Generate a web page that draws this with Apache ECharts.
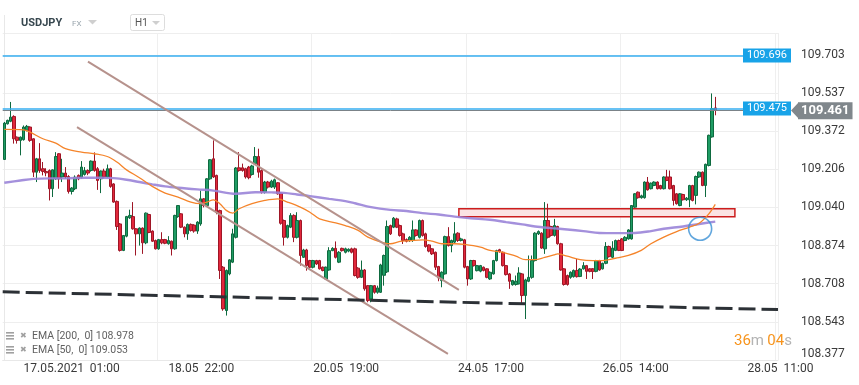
<!DOCTYPE html>
<html><head><meta charset="utf-8">
<script src="https://cdn.jsdelivr.net/npm/echarts@6/dist/echarts.min.js"></script>
<style>html,body{margin:0;padding:0;background:#fff}#c{width:859px;height:385px}</style>
</head><body><div id="c"></div>
<script>
// ---- data (USDJPY, H1) : [open, close, low, high] ----
const candles = [
[109.248,109.406,109.248,109.411],[109.403,109.418,109.400,109.421],[109.414,109.432,109.410,109.498],[109.435,109.338,109.317,109.440],
[109.345,109.331,109.317,109.348],[109.331,109.345,109.266,109.348],[109.334,109.389,109.330,109.396],[109.375,109.392,109.370,109.398],
[109.389,109.331,109.325,109.392],[109.338,109.193,109.172,109.340],[109.193,109.251,109.150,109.255],[109.251,109.200,109.190,109.319],
[109.208,109.196,109.179,109.237],[109.196,109.190,109.175,109.210],[109.200,109.121,109.070,109.205],[109.121,109.203,109.085,109.205],
[109.164,109.261,109.160,109.280],[109.273,109.164,109.121,109.276],[109.172,109.189,109.150,109.251],[109.189,109.172,109.165,109.215],
[109.174,109.109,109.100,109.180],[109.109,109.124,109.096,109.128],[109.121,109.171,109.115,109.179],[109.179,109.164,109.158,109.183],
[109.171,109.215,109.165,109.241],[109.183,109.200,109.178,109.215],[109.200,109.189,109.180,109.205],[109.200,109.241,109.195,109.244],
[109.241,109.200,109.195,109.279],[109.208,109.157,109.116,109.215],[109.164,109.198,109.102,109.200],[109.198,109.172,109.165,109.208],
[109.172,109.208,109.170,109.226],[109.208,109.131,109.125,109.212],[109.142,109.063,109.060,109.145],[109.066,108.957,108.942,109.070],
[108.968,108.853,108.848,108.972],[108.853,108.918,108.850,108.920],[108.915,109.000,108.910,109.003],[108.995,109.005,108.990,109.030],
[109.000,108.947,108.943,109.063],[108.947,108.925,108.831,108.950],[108.925,108.950,108.874,108.953],[108.950,108.886,108.838,108.953],
[108.886,109.015,108.880,109.018],[109.009,108.931,108.928,109.012],[108.937,108.893,108.890,108.940],[108.896,108.860,108.857,108.900],
[108.860,108.900,108.856,108.903],[108.900,108.886,108.880,108.932],[108.900,108.884,108.880,108.903],[108.882,108.896,108.878,108.915],
[108.893,108.860,108.831,108.896],[108.860,109.005,108.856,109.008],[109.000,109.048,108.995,109.050],[109.012,108.954,108.950,109.015],
[108.954,108.925,108.910,108.957],[108.925,108.966,108.899,108.970],[108.966,108.940,108.935,108.970],[108.963,108.937,108.930,108.967],
[108.937,108.976,108.925,108.980],[108.968,109.077,108.960,109.113],[109.077,109.048,109.040,109.080],[109.048,109.164,109.045,109.167],
[109.164,109.247,109.160,109.250],[109.251,109.172,109.168,109.331],[109.179,109.019,109.010,109.182],[109.026,108.766,108.729,109.030],
[108.780,108.599,108.591,108.785],[108.592,108.766,108.570,108.770],[108.751,108.812,108.745,108.815],[108.802,108.925,108.798,108.947],
[108.910,109.211,108.905,109.215],[109.212,109.200,109.195,109.280],[109.212,109.200,109.195,109.230],[109.208,109.172,109.165,109.212],
[109.215,109.169,109.162,109.220],[109.183,109.220,109.178,109.225],[109.230,109.261,109.225,109.302],[109.261,109.193,109.169,109.295],
[109.200,109.106,109.100,109.205],[109.106,109.150,109.100,109.155],[109.150,109.128,109.122,109.155],[109.128,109.154,109.124,109.160],
[109.128,109.160,109.120,109.165],[109.147,109.099,109.095,109.150],[109.102,108.971,108.965,109.105],[108.983,108.910,108.874,108.987],
[108.910,108.961,108.905,108.965],[108.954,109.005,108.950,109.015],[109.005,108.910,108.889,109.010],[108.910,108.983,108.905,109.019],
[108.983,108.831,108.787,108.987],[108.823,108.855,108.820,108.860],[108.855,108.787,108.765,108.860],[108.809,108.780,108.775,108.812],
[108.780,108.809,108.775,108.812],[108.809,108.794,108.790,108.812],[108.809,108.773,108.770,108.812],[108.780,108.766,108.762,108.783],
[108.729,108.780,108.725,108.783],[108.768,108.852,108.765,108.867],[108.852,108.862,108.850,108.867],[108.862,108.823,108.818,108.892],
[108.802,108.845,108.798,108.850],[108.862,108.852,108.848,108.865],[108.845,108.860,108.840,108.865],[108.850,108.858,108.845,108.862],
[108.860,108.845,108.840,108.865],[108.860,108.744,108.740,108.865],[108.776,108.736,108.730,108.780],[108.736,108.768,108.733,108.809],
[108.768,108.686,108.678,108.772],[108.700,108.635,108.628,108.703],[108.642,108.700,108.628,108.703],[108.700,108.671,108.665,108.703],
[108.671,108.690,108.665,108.700],[108.671,108.790,108.668,108.795],[108.745,108.831,108.700,108.835],[108.760,108.957,108.755,108.983],
[108.961,108.925,108.920,108.965],[108.954,108.993,108.950,108.998],[108.990,108.954,108.950,108.995],[108.961,108.918,108.913,108.965],
[108.925,108.896,108.881,108.930],[108.900,108.893,108.888,108.905],[108.896,108.910,108.890,108.915],[108.896,108.942,108.890,108.983],
[108.942,108.918,108.913,108.945],[108.910,108.983,108.905,108.987],[108.983,108.918,108.913,108.987],[108.925,108.870,108.865,108.930],
[108.877,108.850,108.845,108.880],[108.860,108.838,108.833,108.863],[108.845,108.780,108.768,108.848],[108.783,108.734,108.719,108.786],
[108.722,108.758,108.693,108.762],[108.751,108.913,108.748,108.917],[108.913,108.874,108.870,108.954],[108.874,108.896,108.845,108.900],
[108.889,108.925,108.885,108.976],[108.928,108.896,108.890,108.932],[108.896,108.903,108.892,108.908],[108.899,108.780,108.775,108.903],
[108.783,108.729,108.700,108.786],[108.729,108.809,108.725,108.812],[108.809,108.787,108.783,108.812],[108.765,108.787,108.762,108.790],
[108.763,108.787,108.758,108.790],[108.780,108.766,108.762,108.783],[108.773,108.736,108.732,108.776],[108.729,108.758,108.725,108.762],
[108.751,108.809,108.748,108.812],[108.809,108.852,108.805,108.856],[108.856,108.848,108.843,108.860],[108.845,108.787,108.783,108.848],
[108.787,108.748,108.744,108.790],[108.751,108.719,108.686,108.755],[108.704,108.722,108.700,108.725],[108.705,108.719,108.700,108.744],
[108.708,108.755,108.705,108.780],[108.751,108.657,108.620,108.755],[108.657,108.725,108.555,108.730],[108.719,108.736,108.715,108.831],
[108.736,108.809,108.730,108.831],[108.809,108.928,108.805,108.932],[108.925,108.935,108.920,108.940],[108.928,108.863,108.860,108.932],
[108.860,108.983,108.838,109.063],[108.983,108.910,108.905,109.056],[108.957,108.918,108.913,108.960],[108.918,108.961,108.913,108.990],
[108.957,108.882,108.878,108.960],[108.882,108.768,108.765,108.886],[108.773,108.705,108.700,108.776],[108.744,108.705,108.700,108.748],
[108.736,108.758,108.730,108.762],[108.739,108.766,108.735,108.770],[108.766,108.739,108.735,108.816],[108.740,108.772,108.737,108.776],
[108.773,108.787,108.770,108.802],[108.787,108.762,108.729,108.790],[108.773,108.762,108.758,108.776],[108.773,108.762,108.729,108.776],
[108.762,108.809,108.758,108.812],[108.809,108.768,108.765,108.812],[108.773,108.797,108.770,108.800],[108.797,108.870,108.793,108.889],
[108.870,108.826,108.822,108.874],[108.823,108.863,108.820,108.893],[108.853,108.896,108.850,108.900],[108.896,108.853,108.850,108.900],
[108.903,108.853,108.850,108.907],[108.896,108.910,108.893,108.915],[108.903,108.942,108.900,108.945],[108.903,109.048,108.900,109.050],
[109.041,109.099,109.038,109.102],[109.106,109.082,109.078,109.109],[109.082,109.090,109.078,109.095],[109.082,109.150,109.078,109.153],
[109.150,109.116,109.113,109.172],[109.121,109.145,109.118,109.148],[109.135,109.150,109.132,109.153],[109.150,109.121,109.118,109.153],
[109.135,109.121,109.118,109.138],[109.121,109.172,109.118,109.175],[109.172,109.157,109.154,109.203],[109.172,109.121,109.118,109.200],
[109.135,109.070,109.048,109.138],[109.099,109.056,109.052,109.102],[109.048,109.099,109.045,109.102],[109.096,109.073,109.070,109.099],
[109.073,109.080,109.068,109.085],[109.073,109.135,109.041,109.138],[109.135,109.070,109.066,109.138],[109.092,109.174,109.053,109.178],
[109.172,109.193,109.168,109.196],[109.193,109.135,109.132,109.196],[109.135,109.227,109.085,109.230],[109.222,109.353,109.218,109.356],
[109.346,109.469,109.343,109.535],[109.472,109.461,109.440,109.520]
];
// EMA readings: [candle index, value]
const ema50Points = [[0,109.379],[6,109.377],[8,109.367],[12,109.338],[16,109.319],[19,109.295],[24,109.280],[28,109.273],[32,109.261],[35,109.237],[38,109.203],[42,109.169],[46,109.131],[50,109.102],[54,109.085],[58,109.063],[61,109.056],[63,109.063],[65,109.073],[67,109.056],[69,109.027],[71,109.015],[73,109.034],[77,109.056],[81,109.070],[85,109.077],[88,109.063],[92,109.041],[95,109.019],[98,108.990],[103,108.973],[106,108.961],[110,108.940],[113,108.911],[118,108.886],[120,108.882],[123,108.892],[126,108.895],[130,108.899],[133,108.893],[136,108.882],[140,108.882],[143,108.879],[148,108.867],[151,108.853],[155,108.845],[159,108.828],[162,108.813],[165,108.813],[168,108.823],[171,108.834],[172,108.838],[175,108.828],[179,108.813],[183,108.809],[186,108.809],[190,108.819],[194,108.831],[198,108.853],[201,108.882],[205,108.911],[209,108.935],[213,108.954],[216,108.971],[219,109.012],[221,109.053]];
const ema200Points = [[0,109.147],[5,109.157],[9,109.164],[14,109.166],[19,109.166],[25,109.169],[30,109.169],[34,109.167],[38,109.160],[42,109.150],[46,109.140],[50,109.131],[54,109.125],[60,109.118],[65,109.113],[72,109.099],[78,109.106],[83,109.105],[87,109.103],[91,109.096],[95,109.089],[101,109.077],[106,109.067],[109,109.058],[114,109.041],[120,109.029],[125,109.024],[130,109.015],[135,109.009],[140,109.000],[145,108.993],[151,108.986],[156,108.976],[161,108.966],[165,108.957],[170,108.950],[175,108.944],[180,108.937],[185,108.929],[190,108.928],[196,108.929],[201,108.937],[205,108.947],[211,108.957],[216,108.968],[221,108.978]];
const yTickLabels = ['108.377','108.543','108.708','108.874','109.040','109.206','109.372','109.537','109.703'];
const xTickLabels = ['17.05.2021  01:00','18.05  22:00','20.05  19:00','24.05  17:00','26.05  14:00','28.05  11:00'];
const levels = [109.696, 109.475];
const lastPrice = 109.461;
const channelUpper = [[26.0,109.673],[141.3,108.682]];
const channelLower = [[22.6,109.389],[137.9,108.404]];
const supportLine = [[-0.5,108.673],[240.5,108.596]];
const zone = {from:141.3, to:227.1, top:109.034, bottom:108.999};
const circleMark = [[216.3,108.947]];
const legendRows = ['EMA [200,  0] 108.978','EMA [50,  0] 109.053'];
const SLOTS = 241;

// hourly categories, market closed Fri 22:00 .. Sun 22:00
function pad(n){return (n<10?'0':'')+n;}
function buildCategories(n){
  const out=[]; let t=Date.UTC(2021,4,14,18);
  while(out.length<n){
    const d=new Date(t), dow=d.getUTCDay(), h=d.getUTCHours();
    const closed=(dow===5&&h>=22)||dow===6||(dow===0&&h<23);
    if(!closed) out.push(pad(d.getUTCDate())+'.'+pad(d.getUTCMonth()+1)+' '+pad(h)+':00');
    t+=3600000;
  }
  return out;
}
const categories = buildCategories(SLOTS);
const keyOf = s => s.replace('.2021','').replace(/\s+/g,' ');
const labelMap = {}; xTickLabels.forEach(l => labelMap[keyOf(l)] = l);

const yInterval = 108.377/654;
const yMin = 654*yInterval;
const yMax = 109.7975;

const chart = echarts.init(document.getElementById('c'), null, {renderer:'canvas'});
const FONT = 'Roboto, "Noto Sans", sans-serif';
const levelLabel = v => ({show:true, position:'end', distance:-35, formatter:v.toFixed(3), backgroundColor:'#18a3e8', color:'#fff', fontSize:11, fontFamily:FONT, padding:[2,4,1,4]});
const option = {
  animation:false,
  backgroundColor:'#ffffff',
  grid:{left:2.7, right:81, top:33, bottom:25},
  xAxis:[{
    type:'category', data:categories, boundaryGap:true,
    axisLine:{show:true, lineStyle:{color:'#e8e8e8'}},
    axisTick:{show:false},
    axisLabel:{interval:(i,v)=> labelMap[v]!==undefined, formatter:v=>labelMap[v]||'', align:'left',
      color:'#3a3a3a', fontSize:12, fontFamily:FONT, margin:3},
    splitLine:{show:true, interval:(i)=> i>0 && i%48===0, lineStyle:{color:'#efefef', width:1}}
  },{
    type:'value', min:-0.5, max:SLOTS-0.5, show:false
  }],
  yAxis:{
    type:'value', position:'right', min:yMin, max:yMax, interval:yInterval, scale:true,
    axisLine:{show:true, lineStyle:{color:'#e8e8e8'}},
    axisTick:{show:false},
    splitLine:{show:true, lineStyle:{color:'#eeeeee', width:1}},
    axisLabel:{margin:23, color:'#3a3a3a', fontSize:12, fontFamily:FONT,
      formatter:v=>{const l=yTickLabels.find(s=>Math.abs(parseFloat(s)-v)<0.01); if(!l) return ''; return l==='108.377'?'{low|'+l+'}':l;},
      rich:{low:{padding:[0,0,13,0], color:'#3a3a3a', fontSize:12, fontFamily:FONT}}}
  },
  series:[
    {type:'line', name:'zone', xAxisIndex:1, data:[], z:1, silent:true,
     markArea:{silent:true, itemStyle:{color:'#fbe3e3', borderColor:'#cc1d1d', borderWidth:1.5},
       data:[[{coord:[zone.from, zone.top]},{coord:[zone.to, zone.bottom]}]]}},
    {type:'candlestick', name:'USDJPY', data:candles, barWidth:3, z:3,
     itemStyle:{color:'#1f9c64', color0:'#e2283c', borderColor:'#0e6a3f', borderColor0:'#9f1626', borderWidth:1},
     markLine:{silent:true, symbol:'none', animation:false,
       data:[
        {yAxis:levels[0], lineStyle:{color:'#36aef0', width:1.5, type:'solid', opacity:1}, label:levelLabel(levels[0])},
        {yAxis:levels[1], lineStyle:{color:'#36aef0', width:1.5, type:'solid', opacity:1}, label:levelLabel(levels[1])},
        {yAxis:lastPrice, lineStyle:{color:'#7b8388', width:1, type:'solid'},
         label:{show:true, position:'end', distance:20, formatter:lastPrice.toFixed(3), backgroundColor:'#80878c', color:'#fff', fontSize:13, fontWeight:'bold', fontFamily:FONT, padding:[2,3,2,3]}}
       ]}},
    {type:'line', name:'EMA200', xAxisIndex:1, data:ema200Points, showSymbol:false, smooth:0.35, z:4,
     lineStyle:{color:'#9a84d8', width:2.4, opacity:0.9}},
    {type:'line', name:'EMA50', xAxisIndex:1, data:ema50Points, showSymbol:false, smooth:0.35, z:5,
     lineStyle:{color:'#f5842a', width:1.3}},
    {type:'line', name:'channelUpper', xAxisIndex:1, data:channelUpper, showSymbol:false, z:6,
     lineStyle:{color:'#b6928c', width:2}},
    {type:'line', name:'channelLower', xAxisIndex:1, data:channelLower, showSymbol:false, z:6,
     lineStyle:{color:'#b6928c', width:2}},
    {type:'line', name:'support', xAxisIndex:1, data:supportLine, showSymbol:false, z:6,
     lineStyle:{color:'#2c3136', width:3, type:[17,6]}},
    {type:'scatter', name:'circle', xAxisIndex:1, data:circleMark, symbol:'circle', symbolSize:23, z:7,
     itemStyle:{color:'rgba(0,0,0,0)', borderColor:'#3a90d4', borderWidth:1.6}}
  ]
};
chart.setOption(option);

const py = chart.convertToPixel({yAxisIndex:0}, lastPrice);
function legendRow(y, text){
  return [
    {type:'rect', shape:{x:6,y:y-4,width:8,height:1.6}, style:{fill:'#a0a0a0'}},
    {type:'rect', shape:{x:6,y:y-1,width:8,height:1.6}, style:{fill:'#a0a0a0'}},
    {type:'rect', shape:{x:6,y:y+2,width:8,height:1.6}, style:{fill:'#a0a0a0'}},
    {type:'text', x:20, y:y, style:{text:'✖', fill:'#a0a0a0', verticalAlign:'middle', font:'8px "DejaVu Sans"'}},
    {type:'text', x:32, y:y, style:{text:text, fill:'#616161', verticalAlign:'middle', font:'10.5px '+FONT}}
  ];
}
chart.setOption({graphic:[
  {type:'line', shape:{x1:4.5,y1:15,x2:4.5,y2:33}, style:{stroke:'#e8e8e8', lineWidth:1}},
  {type:'text', x:21, y:23, style:{text:'USDJPY', fill:'#37474f', verticalAlign:'middle', font:'bold 11px '+FONT}},
  {type:'text', x:72, y:23.5, style:{text:'FX', fill:'#9aa6ae', verticalAlign:'middle', font:'8px '+FONT}},
  {type:'polygon', shape:{points:[[88,20],[97,20],[92.5,24.5]]}, style:{fill:'#cfcfcf'}},
  {type:'rect', shape:{x:130.5,y:14.5,width:34,height:16,r:2}, style:{fill:'#fff', stroke:'#dddddd', lineWidth:1}},
  {type:'text', x:135, y:23, style:{text:'H1', fill:'#555', verticalAlign:'middle', font:'10px '+FONT}},
  {type:'polygon', shape:{points:[[152,21],[160,21],[156,25]]}, style:{fill:'#cfcfcf'}},
  {type:'polygon', shape:{points:[[791,py],[798.5,py-8],[798.5,py+8]]}, style:{fill:'#80878c'}, z:100},
  ...legendRow(336, legendRows[0]),
  ...legendRow(350, legendRows[1]),
  {type:'text', x:734, y:341, style:{text:'{o|36}{g|m} {o|04}{g|s}', verticalAlign:'middle',
    rich:{o:{fill:'#f7941d', font:'15px '+FONT}, g:{fill:'#b3b3b3', font:'15px '+FONT}}}}
]});
</script></body></html>
